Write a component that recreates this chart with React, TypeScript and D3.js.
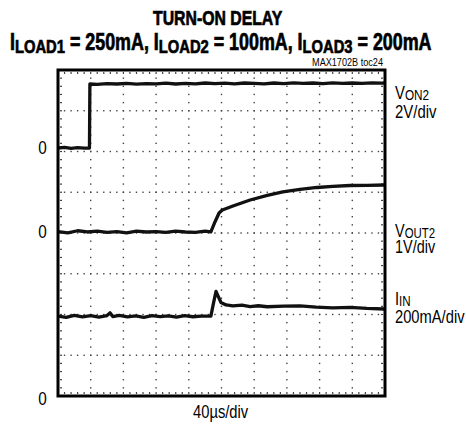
import React from "react";
import * as d3 from "d3";

// ---- data (time in µs, values in channel units) ----
const von2Time = [0, 8, 16, 24, 32, 38.5, 39, 48, 60, 72, 84, 96, 108, 120, 132, 144, 156, 168, 180, 192, 204, 216, 228, 240, 252, 264, 276, 288, 300, 312, 324, 336, 348, 360, 372, 384, 396, 400];
const von2Volts = [0.0, 0.03, -0.02, 0.02, -0.01, 0.0, 3.14, 3.12, 3.16, 3.14, 3.17, 3.13, 3.16, 3.15, 3.18, 3.14, 3.17, 3.15, 3.19, 3.16, 3.18, 3.15, 3.19, 3.17, 3.15, 3.19, 3.16, 3.2, 3.17, 3.19, 3.16, 3.2, 3.17, 3.19, 3.17, 3.2, 3.18, 3.19];

const vout2Time = [0, 12, 24, 36, 48, 60, 72, 84, 96, 108, 120, 132, 144, 156, 168, 180, 187, 192, 197, 201, 214, 235, 256, 275, 296, 317, 336, 357, 378, 399];
const vout2Volts = [0.01, -0.02, 0.03, 0.0, 0.02, -0.01, 0.01, -0.02, 0.02, 0.0, 0.01, -0.01, 0.02, 0.0, -0.01, 0.02, 0.0, 0.245, 0.466, 0.54, 0.638, 0.785, 0.896, 0.982, 1.043, 1.092, 1.121, 1.141, 1.146, 1.153];

const iinTime = [0, 10, 20, 30, 40, 50, 60, 63.6, 67, 75, 85, 95, 105, 115, 125, 135, 145, 155, 165, 175, 187, 190.2, 193.3, 195.7, 199.4, 205.5, 214, 225, 235, 245, 256, 276, 296, 316, 336, 357, 378, 399];
const iinMilliamps = [392, 386, 396, 388, 394, 387, 395, 408, 390, 396, 388, 393, 386, 395, 390, 393, 387, 394, 389, 392, 392, 456, 513, 491, 459, 447, 442, 446, 439, 443, 438, 441, 442, 436, 433, 435, 430, 427];

// channel settings: zero position in divisions from bottom, units per division
const channelZeroDiv = [6.086, 4.025, 0];
const channelPerDiv = [2, 1, 200];
const zeroLabels = ["0", "0", "0"];
const channelNames = [["V", "ON2"], ["V", "OUT2"], ["I", "IN"]];
const channelScales = ["2V/div", "1V/div", "200mA/div"];

const timeDomain = [0, 400];
const xDivisions = 10;
const yDivisions = 8;

const FONT = "'Liberation Sans', Arial, sans-serif";

function Cond(props: { x: number; y: number; sx: number; size: number; bold?: boolean; anchor?: string; children: React.ReactNode }) {
  const { x, y, sx, size, bold, anchor, children } = props;
  return (
    <text
      transform={`translate(${x},${y}) scale(${sx},1)`}
      fontFamily={FONT}
      fontSize={size}
      fontWeight={bold ? "bold" : "normal"}
      textAnchor={anchor || "start"}
      fill="#000"
      stroke={bold ? "#000" : "none"}
      strokeWidth={bold ? 0.7 : 0}
    >
      {children}
    </text>
  );
}

export default function App() {
  const left = 58, right = 385, top = 70, bottom = 396;
  const x = d3.scaleLinear().domain(timeDomain).range([left, right]);
  const yDiv = d3.scaleLinear().domain([0, yDivisions]).range([bottom, top]);

  const makeLine = (ch: number) =>
    d3
      .line<[number, number]>()
      .x((d) => x(d[0]))
      .y((d) => yDiv(channelZeroDiv[ch] + d[1] / channelPerDiv[ch]));

  const series: [number[], number[]][] = [
    [von2Time, von2Volts],
    [vout2Time, vout2Volts],
    [iinTime, iinMilliamps],
  ];

  const tPerDiv = (timeDomain[1] - timeDomain[0]) / xDivisions;

  const dots: JSX.Element[] = [];
  for (let k = 1; k < xDivisions; k++) {
    const gx = x(k * tPerDiv);
    for (let j = 1; j < yDivisions * 5; j++) {
      const gy = yDiv(j / 5);
      dots.push(<rect key={`v${k}-${j}`} x={gx - 0.7} y={gy - 0.7} width={1.4} height={1.4} fill="#444" />);
    }
  }
  for (let m = 1; m < yDivisions; m++) {
    const gy = yDiv(m);
    for (let i = 1; i < xDivisions * 5; i++) {
      const gx = x((i * tPerDiv) / 5);
      dots.push(<rect key={`h${m}-${i}`} x={gx - 0.7} y={gy - 0.7} width={1.4} height={1.4} fill="#444" />);
    }
  }
  for (let i = 1; i < xDivisions * 5; i++) {
    const gx = x((i * tPerDiv) / 5);
    dots.push(<rect key={`et${i}`} x={gx - 0.6} y={top + 2} width={1.2} height={2} fill="#444" />);
    dots.push(<rect key={`eb${i}`} x={gx - 0.6} y={bottom - 4} width={1.2} height={2} fill="#444" />);
  }
  for (let j = 1; j < yDivisions * 5; j++) {
    const gy = yDiv(j / 5);
    dots.push(<rect key={`el${j}`} x={left + 2} y={gy - 0.6} width={2} height={1.2} fill="#444" />);
    dots.push(<rect key={`er${j}`} x={right - 4} y={gy - 0.6} width={2} height={1.2} fill="#444" />);
  }

  const zeroY = channelZeroDiv.map((z) => yDiv(z));
  const labelY = [99, 237, 305];
  const labelGap = [19, 16, 18];
  const labelSx = [0.785, 0.76, 0.775];

  return (
    <svg width={466} height={427} style={{ position: "absolute", left: 0, top: 0, background: "#fff" }}>
      <rect x={0} y={0} width={466} height={427} fill="#fff" />
      {/* Title */}
      <Cond x={153} y={25} sx={0.753} size={21} bold>TURN-ON DELAY</Cond>
      <Cond x={10} y={50} sx={0.777} size={23} bold>
        I<tspan fontSize={19} dy={3}>LOAD1</tspan>
        <tspan dy={-3}> = 250mA, I</tspan>
        <tspan fontSize={19} dy={3}>LOAD2</tspan>
        <tspan dy={-3}> = 100mA, I</tspan>
        <tspan fontSize={19} dy={3}>LOAD3</tspan>
        <tspan dy={-3}> = 200mA</tspan>
      </Cond>
      <Cond x={383} y={66} sx={0.869} size={10.5} anchor="end">MAX1702B toc24</Cond>

      {dots}

      {series.map(([t, v], ch) => (
        <path
          key={ch}
          d={makeLine(ch)(t.map((tt, i) => [tt, v[i]] as [number, number])) || ""}
          fill="none"
          stroke="#111"
          strokeWidth={3.3}
          strokeLinejoin="round"
        />
      ))}

      <rect x={left} y={top} width={right - left} height={bottom - top} fill="none" stroke="#000" strokeWidth={3} />

      {zeroLabels.map((z, i) => (
        <Cond key={`z${i}`} x={42.5} y={zeroY[i] + (i === 2 ? 8.5 : 6.5)} sx={0.85} size={18} anchor="middle">{z}</Cond>
      ))}

      {channelNames.map((nm, i) => (
        <Cond key={`c${i}`} x={395} y={labelY[i]} sx={labelSx[i]} size={19}>
          {nm[0]}
          <tspan fontSize={15} dy={1}>{nm[1]}</tspan>
          <tspan x={0} dy={labelGap[i] - 1} fontSize={19}>{channelScales[i]}</tspan>
        </Cond>
      ))}

      <Cond x={193} y={418} sx={0.82} size={18}>40µs/div</Cond>
    </svg>
  );
}
